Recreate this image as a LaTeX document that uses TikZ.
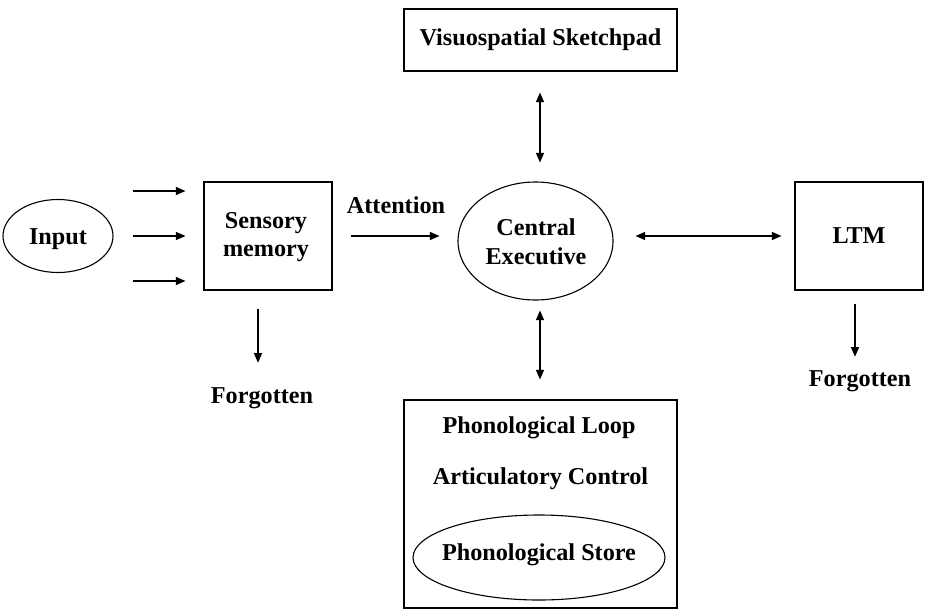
\documentclass[tikz,border=0pt]{standalone}
\usepackage{fontspec}
\setmainfont{Liberation Serif}
\usetikzlibrary{shapes.geometric,arrows.meta}
\begin{document}
\begin{tikzpicture}[x=1pt,y=-1pt,
  every node/.style={font=\bfseries\fontsize{24.2}{28.8}\selectfont, align=center, inner sep=0pt},
  box/.style={draw, line width=1.1pt, rectangle},
  oval/.style={draw, line width=1.1pt, ellipse},
  txt/.style={},
  tip/.style={Triangle[length=9.5pt,width=8pt]},
  arr/.style={line width=1.1pt, -{Triangle[length=9.5pt,width=8pt]}},
  dbl/.style={line width=1.1pt, {Triangle[length=9.5pt,width=8pt]}-{Triangle[length=9.5pt,width=8pt]}}]
\useasboundingbox (0,0) rectangle (933,610);

% nodes
\node[oval, minimum width=110pt, minimum height=73pt] (input) at (58,236) {};
\node[txt] (inputt) at (58,239) {Input};
\node[box, minimum width=128pt, minimum height=108pt] (sensory) at (268,236) {};
\node[txt] (sensoryt) at (266,237) {Sensory\\memory};
\node[box, minimum width=273pt, minimum height=62pt] (vs) at (540.5,40) {Visuospatial Sketchpad};
\node[oval, minimum width=155pt, minimum height=118pt] (ce) at (535.5,241) {};
\node[txt] (cet) at (536,242) {Central\\Executive};
\node[box, minimum width=128pt, minimum height=108pt] (ltm) at (859,236) {LTM};
\node[box, minimum width=273pt, minimum height=208pt] (pl) at (540.5,504) {};
\node[txt] (plt) at (539,428) {Phonological Loop};
\node[txt] (act) at (540.5,479) {Articulatory Control};
\node[oval, minimum width=252pt, minimum height=85pt] (ps) at (539,557.5) {};
\node[txt] (pst) at (539,555) {Phonological Store};
\node[txt] (att) at (396,205.5) {Attention};
\node[txt] (f1) at (262,398) {Forgotten};
\node[txt] (f2) at (860,381) {Forgotten};

% input arrows
\foreach \dy in {45,0,-45}
  \draw[arr, shorten <=19pt, shorten >=18pt] ([yshift=\dy pt]input.east) -- ([yshift=\dy pt]sensory.west);

% attention
\draw[arr, shorten <=18pt, shorten >=18pt] (sensory.east) -- (ce.west |- sensory.east);

% double arrows
\draw[dbl, shorten <=21pt, shorten >=19pt] ([xshift=-0.5pt]vs.south) -- ([xshift=-0.5pt]vs.south |- ce.north);
\draw[dbl, shorten <=22pt, shorten >=13pt] (ce.east |- ltm.west) -- (ltm.west);
\draw[dbl, shorten <=10pt, shorten >=20pt] ([xshift=-0.5pt]pl.north |- ce.south) -- ([xshift=-0.5pt]pl.north);

% forgotten arrows
\draw[arr, shorten <=18pt, shorten >=24.5pt] ([xshift=-10pt]sensory.south) -- ([xshift=-10pt]sensory.south |- f1.north);
\draw[arr, shorten <=13pt, shorten >=13.5pt] ([xshift=-4pt]ltm.south) -- ([xshift=-4pt]ltm.south |- f2.north);
\end{tikzpicture}
\end{document}
